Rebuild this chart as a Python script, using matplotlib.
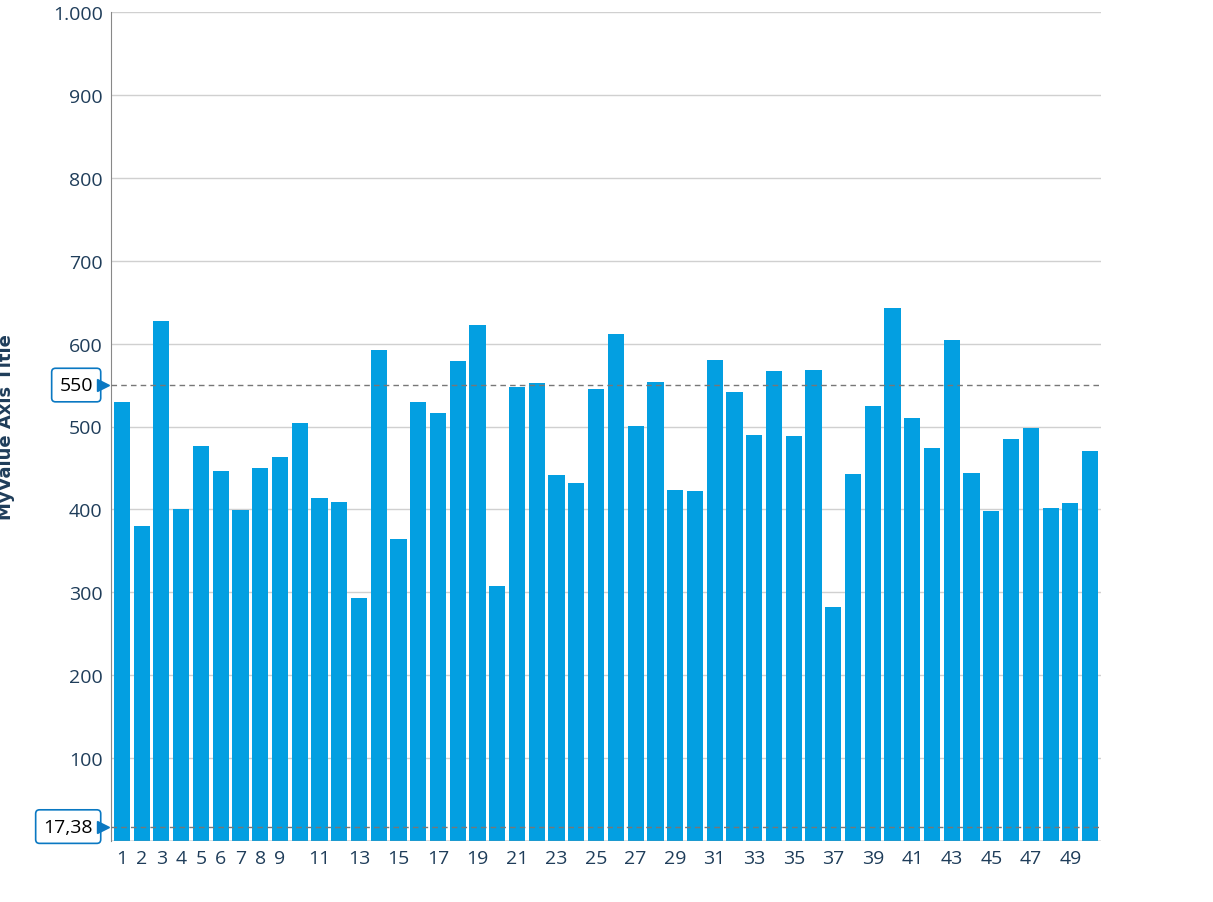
import matplotlib
matplotlib.use("Agg")
import matplotlib.pyplot as plt
from matplotlib.ticker import FuncFormatter

categories = list(range(1, 51))
values = [530, 380, 627, 400, 476, 446, 399, 450, 463, 504,
          414, 409, 293, 592, 364, 530, 516, 579, 622, 308,
          548, 552, 441, 432, 545, 612, 501, 554, 423, 422,
          580, 542, 490, 567, 489, 568, 282, 443, 525, 643,
          510, 474, 604, 444, 398, 485, 498, 402, 408, 470]
ref_lines = [550, 17.38]
ref_labels = ["550", "17,38"]
xtick_labels = [1, 2, 3, 4, 5, 6, 7, 8, 9, 11, 13, 15, 17, 19, 21, 23, 25, 27, 29, 31, 33, 35, 37, 39, 41, 43, 45, 47, 49]

plt.rcParams['font.family'] = ['Open Sans', 'DejaVu Sans']
fig = plt.figure(figsize=(12.13, 9.03), dpi=100)
ax = fig.add_axes([111/1213, 1-842/903, (1101-111)/1213, (842-13)/903])
tc = '#1f3d5a'
ax.bar(categories, values, width=0.82, color='#039fe1', zorder=2)
ax.set_xlim(0.45, 50.55)
ax.set_ylim(0, 1000)
ax.set_yticks(range(0, 1001, 100))
ax.yaxis.set_major_formatter(FuncFormatter(lambda v, p: "" if v == 0 else f"{int(v):,}".replace(",", ".")))
ax.set_xticks(xtick_labels)
ax.tick_params(axis='both', length=0, labelsize=14, colors=tc, pad=6)
ax.grid(axis='y', color='#d0d0d0', lw=1, zorder=0)
for s in ['top', 'right', 'bottom']:
    ax.spines[s].set_visible(False)
ax.spines['left'].set_color('#888888')
ax.axhline(0, color='#888888', lw=1, zorder=3)
for v, lab in zip(ref_lines, ref_labels):
    ax.axhline(v, color='#777777', lw=1, ls=(0, (4, 3)), zorder=3)
    ax.annotate(lab, xy=(0, v), xycoords=('axes fraction', 'data'), xytext=(-13, 0),
                textcoords='offset points', ha='right', va='center', fontsize=14, color='black',
                bbox=dict(boxstyle='round,pad=0.4,rounding_size=0.2', fc='white', ec='#0a78c2', lw=1.2),
                annotation_clip=False)
    ax.plot([-0.008], [v], marker='>', color='#0a78c2', markersize=9, transform=ax.get_yaxis_transform(),
            clip_on=False, zorder=4)
ax.set_ylabel('MyValue Axis Title', fontsize=13, fontweight='bold', color=tc,
              family=['Liberation Sans Narrow', 'DejaVu Sans'])
ax.yaxis.set_label_coords(-(111 - 15) / 990, 0.5)
fig.savefig('out.png', dpi=100)
